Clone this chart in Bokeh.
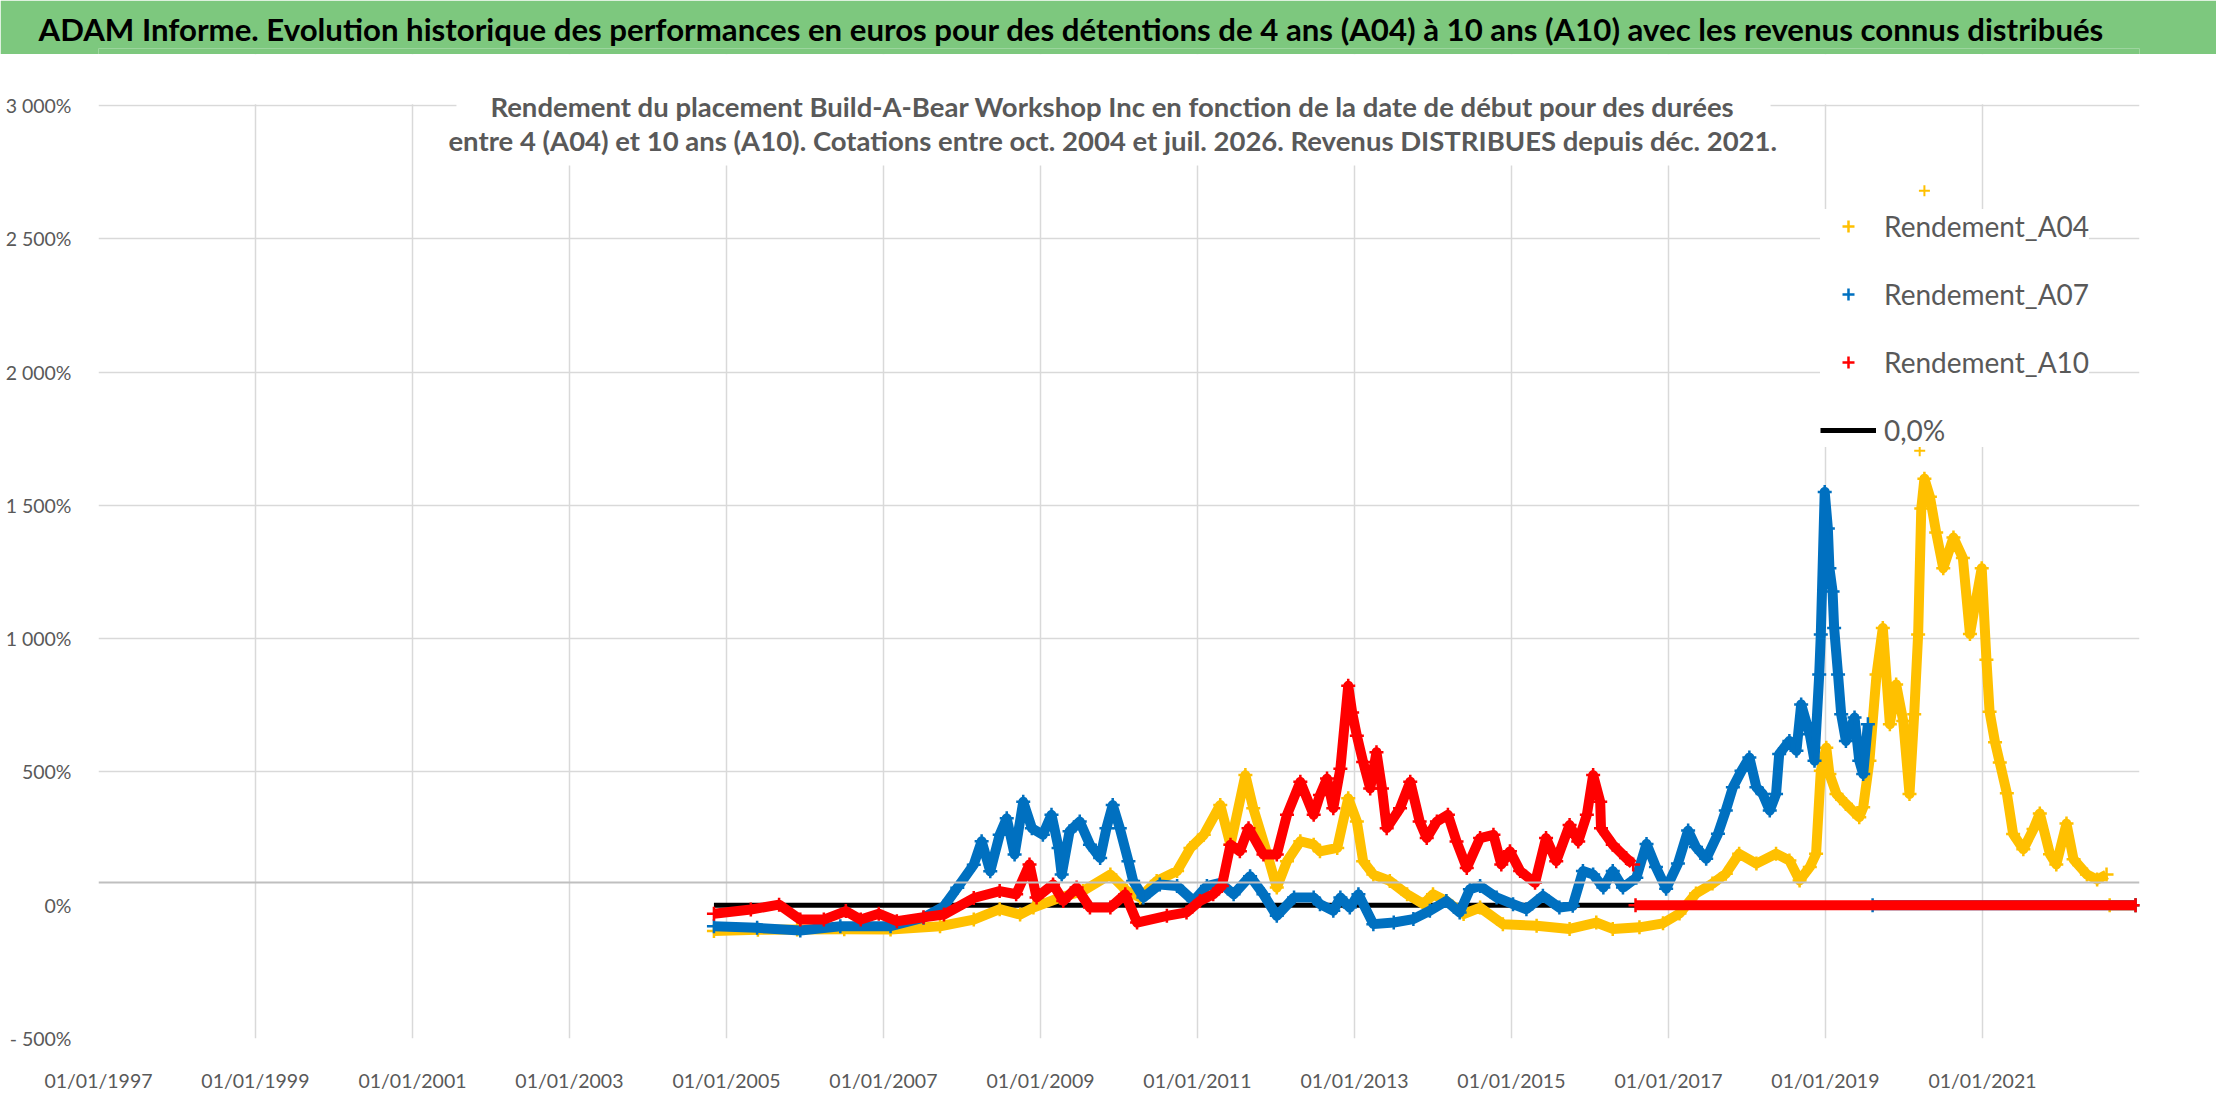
import numpy as np
import pandas as pd
from bokeh.plotting import figure
from bokeh.layouts import column
from bokeh.models import (Range1d, FixedTicker, DatetimeTickFormatter, Span, Label, Title,
                          BoxAnnotation, Legend, LegendItem, ColumnDataSource)
from bokeh.embed import file_html
from bokeh.resources import INLINE

nan = float("nan")

# dates en annees decimales, rendements en %
a04_dates = [2004.84, 2005.40, 2005.90, 2006.50, 2007.09, 2007.72, 2008.15, 2008.48, 2008.74, 2008.91,
             2009.25, 2009.54, 2009.89, 2010.10, 2010.27, 2010.48, 2010.74, 2010.91, 2011.08, 2011.29,
             2011.42, 2011.61, 2011.71, 2011.89, 2012.01, 2012.14, 2012.31, 2012.48, 2012.56, 2012.78,
             2012.92, 2013.03, 2013.11, 2013.24, 2013.45, 2013.67, 2013.88, 2014.00, 2014.17, 2014.39,
             2014.60, 2014.89, 2015.32, 2015.74, 2016.08, 2016.29, 2016.63, 2016.93, 2017.14, 2017.35,
             2017.56, 2017.73, 2017.90, 2018.12, 2018.37, 2018.54, 2018.67, 2018.80, 2018.88, 2018.94,
             2019.01, 2019.05, 2019.14, 2019.26, 2019.43, 2019.48, 2019.56, 2019.65, 2019.73, 2019.82,
             2019.90, 2019.99, 2020.07, 2020.13, 2020.18, 2020.22, 2020.26, 2020.33, 2020.41, 2020.50,
             2020.63, 2020.75, 2020.84, 2020.92, 2020.99, 2021.05, 2021.09, 2021.16, 2021.22, 2021.31,
             2021.39, 2021.52, 2021.65, 2021.73, 2021.86, 2021.94, 2022.07, 2022.16, 2022.33, 2022.46,
             2022.58, 2022.60, 2022.62, 2022.95]
a04_vals = [-97, -92, -91, -90, -91, -79, -54, -15, -35, -9,
            29, 53, 115, 53, 29, 91, 128, 215, 264, 376,
            227, 488, 364, 190, 66, 165, 240, 227, 202, 215,
            401, 314, 165, 115, 91, 41, 4, 41, 16, -33,
            -9, -71, -77, -89, -65, -89, -83, -68, -31, 44,
            81, 118, 193, 156, 193, 168, 93, 143, 193, 504,
            591, 492, 417, 380, 330, 367, 542, 865, 1040, 679,
            828, 691, 417, 716, 1015, 1488, 1600, 1532, 1398, 1264,
            1379, 1302, 1017, 1150, 1264, 921, 726, 611, 535, 420,
            267, 210, 286, 344, 191, 153, 306, 172, 115, 96,
            115, nan, 0, 0]
a04_isoles_dates = [2020.26, 2020.20]
a04_isoles_vals = [2680, 1705]

a07_dates = [2004.84, 2005.39, 2005.94, 2006.45, 2007.09, 2007.51, 2007.77, 2007.94, 2008.15, 2008.25,
             2008.36, 2008.48, 2008.57, 2008.67, 2008.78, 2008.89, 2009.03, 2009.14, 2009.23, 2009.27,
             2009.37, 2009.50, 2009.63, 2009.76, 2009.84, 2009.92, 2010.01, 2010.12, 2010.18, 2010.31,
             2010.52, 2010.74, 2010.95, 2011.12, 2011.29, 2011.46, 2011.67, 2011.84, 2012.01, 2012.23,
             2012.48, 2012.56, 2012.73, 2012.82, 2012.94, 2013.05, 2013.24, 2013.50, 2013.75, 2013.96,
             2014.17, 2014.34, 2014.47, 2014.60, 2014.81, 2015.02, 2015.19, 2015.40, 2015.61, 2015.78,
             2015.91, 2016.04, 2016.17, 2016.29, 2016.42, 2016.59, 2016.72, 2016.84, 2016.97, 2017.12,
             2017.25, 2017.35, 2017.48, 2017.63, 2017.73, 2017.82, 2017.93, 2018.03, 2018.12, 2018.20,
             2018.29, 2018.37, 2018.41, 2018.54, 2018.63, 2018.69, 2018.80, 2018.86, 2018.92, 2018.94,
             2018.99, 2019.03, 2019.05, 2019.09, 2019.11, 2019.16, 2019.20, 2019.26, 2019.37, 2019.43,
             2019.48, 2019.54, 2019.57, 2019.60, 2022.95]
a07_vals = [-79, -85, -95, -79, -79, -47, -4, 65, 152, 240,
            127, 264, 326, 190, 388, 289, 264, 339, 215, 115,
            277, 314, 227, 177, 289, 376, 289, 165, 91, 29,
            78, 72, 16, 72, 84, 41, 109, 41, -40, 29,
            29, 4, -21, 29, -9, 41, -71, -65, -52, -21,
            16, -27, 60, 72, 29, 4, -15, 35, -9, -2,
            128, 115, 66, 128, 66, 103, 230, 143, 62, 156,
            280, 218, 174, 268, 355, 442, 504, 554, 442, 417,
            355, 417, 567, 616, 579, 753, 641, 542, 865, 1015,
            1550, 1413, 1264, 1177, 1040, 865, 716, 616, 704, 542,
            492, 679, nan, 0, 0]

a10_dates = [2004.84, 2005.31, 2005.67, 2005.94, 2006.24, 2006.52, 2006.71, 2006.94, 2007.17, 2007.51,
             2007.77, 2008.15, 2008.48, 2008.69, 2008.86, 2008.95, 2009.16, 2009.29, 2009.46, 2009.63,
             2009.89, 2010.08, 2010.23, 2010.61, 2010.86, 2011.03, 2011.20, 2011.31, 2011.42, 2011.54,
             2011.65, 2011.84, 2012.01, 2012.14, 2012.31, 2012.48, 2012.56, 2012.65, 2012.73, 2012.82,
             2012.92, 2012.97, 2013.03, 2013.11, 2013.20, 2013.28, 2013.35, 2013.41, 2013.58, 2013.71,
             2013.83, 2013.92, 2014.05, 2014.19, 2014.30, 2014.43, 2014.60, 2014.77, 2014.87, 2014.98,
             2015.11, 2015.30, 2015.44, 2015.57, 2015.74, 2015.85, 2015.96, 2016.04, 2016.13, 2016.14,
             2016.29, 2016.46, 2016.55, 2016.57, 2016.58, 2022.95]
a10_vals = [-32, -16, 2, -54, -54, -22, -54, -32, -60, -45,
            -35, 27, 53, 41, 153, 29, 78, 16, 66, -9,
            -9, 41, -65, -40, -27, 16, 41, 72, 227, 202,
            289, 190, 190, 339, 463, 339, 413, 475, 364, 512,
            823, 723, 636, 537, 438, 574, 438, 289, 364, 463,
            314, 252, 314, 339, 239, 140, 252, 264, 153, 202,
            128, 84, 252, 165, 301, 239, 339, 488, 388, 289,
            227, 177, 153, nan, 0, 0]

zero_dates = [2004.84, 2022.95]
zero_vals = [0, 0]

y_ticks = [-500, 0, 500, 1000, 1500, 2000, 2500, 3000]
y_labels = ["- 500%", "0%", "500%", "1 000%", "1 500%", "2 000%", "2 500%", "3 000%"]
x_tick_years = list(range(1997, 2022, 2))

ORIGINE = pd.Timestamp("1997-01-01")


def dates(annees):
    return pd.DatetimeIndex([ORIGINE + pd.Timedelta(days=(a - 1997) * 365.25) for a in annees])


def ms(annee):
    return dates([annee])[0].value / 1e6


JAUNE, BLEU, ROUGE = "#FFC000", "#0070C0", "#FF0000"
GRIS = "#595959"
VERT = "#7DC87E"
POLICE = "Lato"

titre = ("ADAM Informe. Evolution historique des performances en euros pour des détentions "
         "de 4 ans (A04) à 10 ans (A10) avec les revenus connus distribués")
sous_titre_1 = "Rendement du placement Build-A-Bear Workshop Inc en fonction de la date de début pour des durées"
sous_titre_2 = ("entre 4 (A04) et 10 ans (A10). Cotations entre oct. 2004 et juil. 2026. "
                "Revenus DISTRIBUES depuis déc. 2021.")

# bandeau vert du haut (son cadre est aligne sur celui du graphique : x de 98 a 2139)
head = figure(width=2216, height=54, x_range=Range1d(0, 1), y_range=Range1d(0, 1),
              x_axis_type=None, y_axis_type=None, toolbar_location=None, output_backend="svg",
              min_border_left=0, min_border_right=0, min_border_top=48, min_border_bottom=0,
              background_fill_color=VERT, border_fill_color=VERT, outline_line_color=None)
head.add_layout(Title(text=titre, align="left", offset=-60, standoff=0, vertical_align="middle",
                      text_font=POLICE, text_font_style="bold", text_font_size="31.2px",
                      text_color="black"), "above")

# le cadre monte jusqu'en haut du graphique pour que le sous-titre ne soit pas coupe
p = figure(width=2216, height=1046, x_axis_type="datetime",
           x_range=Range1d(ms(1997), ms(2023)), y_range=Range1d(-500, 3191),
           toolbar_location=None, output_backend="svg",
           min_border_left=98, min_border_right=77, min_border_top=0, min_border_bottom=62,
           outline_line_color=None)

x_ticks = [pd.Timestamp(f"{a}-01-01").value / 1e6 for a in x_tick_years]
p.xaxis.ticker = FixedTicker(ticks=x_ticks)
fmt = "%d/%m/%Y"
p.xaxis.formatter = DatetimeTickFormatter(milliseconds=fmt, seconds=fmt, minsec=fmt, minutes=fmt,
                                          hourmin=fmt, hours=fmt, days=fmt, months=fmt, years=fmt)
p.xgrid.ticker = FixedTicker(ticks=x_ticks)
p.yaxis.ticker = FixedTicker(ticks=y_ticks)
p.yaxis.major_label_overrides = dict(zip(y_ticks, y_labels))
p.ygrid.ticker = FixedTicker(ticks=[t for t in y_ticks if t != 0])

for ax in (p.xaxis[0], p.yaxis[0]):
    ax.axis_line_color = None
    ax.major_tick_line_color = None
    ax.minor_tick_line_color = None
    ax.major_label_text_font = POLICE
    ax.major_label_text_font_size = "19.5px"
    ax.major_label_text_color = GRIS
p.xaxis.major_label_standoff = 24
p.yaxis.major_label_standoff = 21

for g in (p.xgrid[0], p.ygrid[0]):
    g.grid_line_color = "#D9D9D9"
    g.grid_line_width = 1.5

p.add_layout(Span(location=85, dimension="width", line_color="#BFBFBF", line_width=2))

# ligne 0,0%
zero = p.line(dates(zero_dates), zero_vals, line_color="black", line_width=5)

rendus = {}
for nom, d, v, c in (("A04", a04_dates, a04_vals, JAUNE),
                     ("A07", a07_dates, a07_vals, BLEU),
                     ("A10", a10_dates, a10_vals, ROUGE)):
    src = ColumnDataSource(dict(x=dates(d), y=v))
    p.line("x", "y", source=src, line_color=c, line_width=10, line_join="round")
    rendus[nom] = p.scatter("x", "y", source=src, marker="cross", size=14,
                            line_color=c, line_width=2.5)
    if nom == "A04":
        p.scatter(dates(a04_isoles_dates), a04_isoles_vals, marker="cross", size=11,
                  line_color=c, line_width=2)

# pas de quadrillage au-dessus de 3 000%
p.add_layout(BoxAnnotation(bottom=3004, fill_color="white", fill_alpha=1, line_color=None))
# cartouche du sous-titre
p.add_layout(BoxAnnotation(left=ms(2001.56), right=ms(2018.30), bottom=2775,
                           fill_color="white", fill_alpha=1, line_color=None))
for txt, yv in ((sous_titre_1, 2996), (sous_titre_2, 2869)):
    p.add_layout(Label(x=ms(2009.92), y=yv, text=txt, text_align="center", text_baseline="middle",
                       text_font=POLICE, text_font_style="bold", text_font_size="27.5px",
                       text_color=GRIS))

legend = Legend(items=[LegendItem(label="Rendement_A04", renderers=[rendus["A04"]]),
                       LegendItem(label="Rendement_A07", renderers=[rendus["A07"]]),
                       LegendItem(label="Rendement_A10", renderers=[rendus["A10"]]),
                       LegendItem(label="0,0%", renderers=[zero])],
                location=(1722, 591), orientation="vertical",
                background_fill_color="white", background_fill_alpha=1,
                border_line_color=None, padding=16, spacing=34, margin=0,
                glyph_width=56, glyph_height=30, label_height=30, label_standoff=8,
                label_text_font=POLICE, label_text_font_size="28px", label_text_color=GRIS)
p.add_layout(legend)

page = column(head, p, spacing=0)
open("out.html", "w").write(file_html(page, INLINE))
